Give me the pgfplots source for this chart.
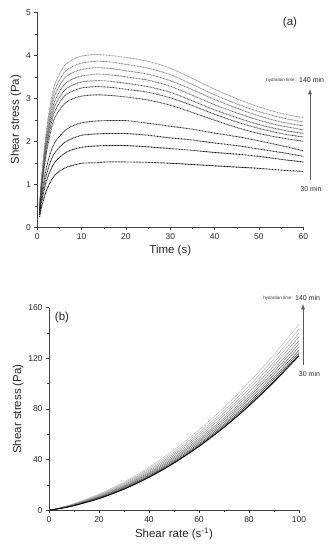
\documentclass[border=0pt]{standalone}
\usepackage{pgfplots}
\pgfplotsset{compat=1.18}
\usepackage{fontspec}
\setmainfont{Liberation Sans}
\pgfplotsset{myaxis/.style={
  scale only axis, axis lines=left, axis line style={black!75,-},
  tick style={black!75, line width=0.5pt}, tick align=outside, minor tick num=1,
  major tick length=3pt, minor tick length=1.8pt,
  tick label style={font=\fontsize{8.5}{9}\selectfont, black!85},
  label style={font=\fontsize{11.5}{12}\selectfont, black!85},
  /pgf/number format/assume math mode=true, clip=false},
  ta/.style={line width=0.9pt, dash pattern=on 0.9pt off 0.6pt, smooth},
  tb/.style={line width=0.5pt, smooth}}
\begin{document}
\begin{tikzpicture}
\path[use as bounding box] (0,0) rectangle (332pt,550pt);
\begin{axis}[myaxis, at={(37.3pt,322.7pt)}, anchor=south west,
  width=266pt, height=215pt, xmin=0, xmax=60, ymin=0, ymax=5,
  xtick={0,10,...,60}, ytick={0,1,...,5},
  xlabel={Time (s)}, ylabel={Shear stress (Pa)},
  xlabel style={yshift=2pt}, ylabel style={yshift=-2pt}]
\addplot[ta, black!40] coordinates {(0.5,0.48)(1,1.21)(2,2.21)(3,2.89)(4,3.34)(6,3.74)(8,3.90)(10,3.98)(13,4.02)(16,4.00)(20,3.95)(25,3.86)(30,3.70)(35,3.46)(40,3.21)(45,2.99)(50,2.80)(55,2.65)(60,2.55)};
\addplot[ta, black!46] coordinates {(0.5,0.46)(1,1.16)(2,2.12)(3,2.78)(4,3.20)(6,3.59)(8,3.74)(10,3.82)(13,3.86)(16,3.85)(20,3.79)(25,3.70)(30,3.55)(35,3.32)(40,3.08)(45,2.87)(50,2.69)(55,2.55)(60,2.45)};
\addplot[ta, black!52] coordinates {(0.5,0.45)(1,1.11)(2,2.04)(3,2.67)(4,3.08)(6,3.45)(8,3.60)(10,3.67)(13,3.71)(16,3.70)(20,3.64)(25,3.56)(30,3.41)(35,3.20)(40,2.97)(45,2.77)(50,2.59)(55,2.45)(60,2.36)};
\addplot[ta, black!58] coordinates {(0.5,0.43)(1,1.07)(2,1.96)(3,2.56)(4,2.95)(6,3.31)(8,3.45)(10,3.52)(13,3.56)(16,3.55)(20,3.50)(25,3.42)(30,3.28)(35,3.07)(40,2.85)(45,2.66)(50,2.49)(55,2.36)(60,2.27)};
\addplot[ta, black!64] coordinates {(0.5,0.41)(1,1.02)(2,1.88)(3,2.46)(4,2.83)(6,3.17)(8,3.31)(10,3.38)(13,3.41)(16,3.40)(20,3.35)(25,3.27)(30,3.14)(35,2.94)(40,2.73)(45,2.55)(50,2.39)(55,2.27)(60,2.18)};
\addplot[ta, black!70] coordinates {(0.5,0.39)(1,0.98)(2,1.80)(3,2.35)(4,2.71)(6,3.04)(8,3.17)(10,3.24)(13,3.27)(16,3.26)(20,3.21)(25,3.14)(30,3.01)(35,2.83)(40,2.63)(45,2.45)(50,2.30)(55,2.18)(60,2.10)};
\addplot[ta, black!76] coordinates {(0.5,0.37)(1,0.92)(2,1.69)(3,2.22)(4,2.56)(6,2.86)(8,2.99)(10,3.05)(13,3.08)(16,3.07)(20,3.03)(25,2.96)(30,2.84)(35,2.67)(40,2.49)(45,2.32)(50,2.18)(55,2.08)(60,2.00)};
\addplot[ta, black!82] coordinates {(0.5,0.37)(1,0.79)(2,1.36)(3,1.74)(4,1.98)(6,2.23)(8,2.36)(10,2.43)(13,2.47)(16,2.48)(20,2.48)(25,2.42)(30,2.35)(35,2.28)(40,2.19)(45,2.11)(50,2.01)(55,1.90)(60,1.78)};
\addplot[ta, black!88] coordinates {(0.5,0.33)(1,0.70)(2,1.20)(3,1.53)(4,1.74)(6,1.96)(8,2.07)(10,2.14)(13,2.17)(16,2.18)(20,2.18)(25,2.14)(30,2.08)(35,2.03)(40,1.96)(45,1.90)(50,1.82)(55,1.74)(60,1.65)};
\addplot[ta, black!94] coordinates {(0.5,0.29)(1,0.61)(2,1.05)(3,1.33)(4,1.52)(6,1.71)(8,1.81)(10,1.86)(13,1.89)(16,1.90)(20,1.90)(25,1.87)(30,1.83)(35,1.79)(40,1.74)(45,1.70)(50,1.65)(55,1.58)(60,1.52)};
\addplot[ta, black] coordinates {(0.5,0.24)(1,0.49)(2,0.84)(3,1.06)(4,1.22)(6,1.37)(8,1.44)(10,1.49)(13,1.50)(16,1.52)(20,1.52)(25,1.51)(30,1.49)(35,1.46)(40,1.43)(45,1.40)(50,1.37)(55,1.33)(60,1.30)};
\end{axis}
\node[font=\fontsize{11.5}{12}\selectfont, black!85] at (290pt,527pt) {(a)};
\node[font=\fontsize{4.5}{5}\selectfont, black!80, anchor=east, inner sep=0pt] at (296pt,470pt) {hydration time:};
\node[font=\fontsize{7}{8}\selectfont, black!85, anchor=west, inner sep=0pt] at (299pt,470pt) {140 min};
\draw[-latex, black!65, line width=0.9pt] (310pt,370pt) -- (310pt,461pt);
\node[font=\fontsize{7}{8}\selectfont, black!85] at (311pt,361pt) {30 min};
\begin{axis}[myaxis, at={(49pt,39.7pt)}, anchor=south west,
  width=250pt, height=202.6pt, xmin=0, xmax=100, ymin=0, ymax=160,
  xtick={0,20,...,100}, ytick={0,40,...,160},
  xlabel={Shear rate (s\textsuperscript{-1})}, ylabel={Shear stress (Pa)},
  xlabel style={yshift=2pt}, ylabel style={yshift=-2pt}]
\addplot[tb, black!25] coordinates {(0,0)(5,2.45)(10,5.40)(20,12.87)(30,22.41)(40,34.01)(50,47.68)(60,63.41)(70,81.21)(80,101.07)(90,123.00)(100,147.0)};
\addplot[tb, black!30] coordinates {(0,0)(5,2.32)(10,5.14)(20,12.32)(30,21.54)(40,32.81)(50,46.11)(60,61.46)(70,78.84)(80,98.27)(90,119.74)(100,143.25)};
\addplot[tb, black!36] coordinates {(0,0)(5,2.21)(10,4.91)(20,11.84)(30,20.80)(40,31.77)(50,44.76)(60,59.77)(70,76.80)(80,95.84)(90,116.91)(100,140.0)};
\addplot[tb, black!42] coordinates {(0,0)(5,2.10)(10,4.70)(20,11.40)(30,20.10)(40,30.81)(50,43.51)(60,58.21)(70,74.90)(80,93.60)(90,114.30)(100,137.0)};
\addplot[tb, black!48] coordinates {(0,0)(5,2.00)(10,4.49)(20,10.96)(30,19.41)(40,29.84)(50,42.25)(60,56.64)(70,73.01)(80,91.36)(90,111.69)(100,134.0)};
\addplot[tb, black!55] coordinates {(0,0)(5,1.92)(10,4.32)(20,10.60)(30,18.84)(40,29.04)(50,41.21)(60,55.34)(70,71.44)(80,89.50)(90,109.52)(100,131.5)};
\addplot[tb, black!62] coordinates {(0,0)(5,1.83)(10,4.14)(20,10.23)(30,18.26)(40,28.24)(50,40.17)(60,54.04)(70,69.86)(80,87.63)(90,107.34)(100,129.0)};
\addplot[tb, black!70] coordinates {(0,0)(5,1.74)(10,3.97)(20,9.86)(30,17.69)(40,27.44)(50,39.13)(60,52.74)(70,68.29)(80,85.76)(90,105.17)(100,126.5)};
\addplot[tb, black!80] coordinates {(0,0)(5,1.68)(10,3.83)(20,9.57)(30,17.23)(40,26.80)(50,38.29)(60,51.70)(70,67.03)(80,84.27)(90,103.43)(100,124.5)};
\addplot[tb, black!90] coordinates {(0,0)(5,1.62)(10,3.72)(20,9.35)(30,16.88)(40,26.32)(50,37.67)(60,50.92)(70,66.08)(80,83.15)(90,102.12)(100,123.0)};
\addplot[tb, black, line width=0.7pt] coordinates {(0,0)(5,1.59)(10,3.65)(20,9.2)(30,16.65)(40,26.0)(50,37.25)(60,50.4)(70,65.45)(80,82.4)(90,101.25)(100,122.0)};
\end{axis}
\node[font=\fontsize{11.5}{12}\selectfont, black!85] at (62pt,232pt) {(b)};
\node[font=\fontsize{4.5}{5}\selectfont, black!80, anchor=east, inner sep=0pt] at (293pt,252pt) {hydration time:};
\node[font=\fontsize{7}{8}\selectfont, black!85, anchor=west, inner sep=0pt] at (295pt,252pt) {140 min};
\draw[-latex, black!65, line width=0.9pt] (303pt,185pt) -- (303pt,246pt);
\node[font=\fontsize{7}{8}\selectfont, black!85] at (309.5pt,176pt) {30 min};
\end{tikzpicture}
\end{document}
